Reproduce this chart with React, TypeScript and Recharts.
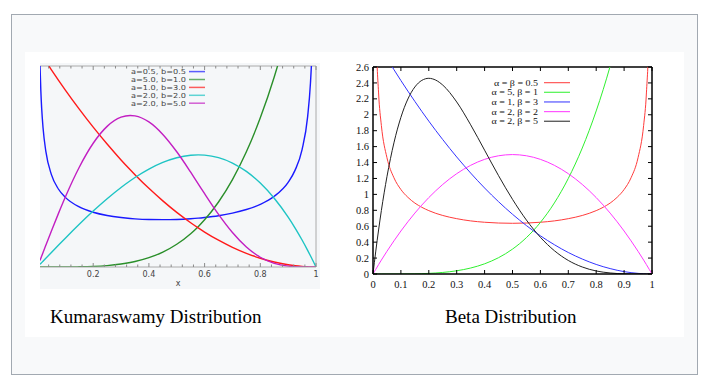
import React from 'react';
import { LineChart, Line, XAxis, YAxis, ReferenceLine, Legend } from 'recharts';

// ---------- Kumaraswamy (left) ----------
const kumX = [0.009, 0.012, 0.015, 0.02, 0.03, 0.05, 0.075, 0.1, 0.15, 0.2, 0.25, 0.3, 0.333, 0.35, 0.4, 0.45, 0.5, 0.55, 0.577, 0.6, 0.65, 0.7, 0.75, 0.8, 0.85, 0.9, 0.925, 0.95, 0.97, 0.98, 0.985, 0.99, 1];
const kumA05B05 = [2.77, 2.419, 2.179, 1.908, 1.587, 1.269, 1.071, 0.956, 0.825, 0.752, 0.707, 0.679, 0.666, 0.661, 0.652, 0.65, 0.653, 0.663, 0.671, 0.68, 0.704, 0.739, 0.789, 0.86, 0.971, 1.163, 1.33, 1.612, 2.065, 2.519, 2.903, 3.55, null];
const kumA5B1 = [0, 0, 0, 0, 0, 0.00003, 0.00016, 0.0005, 0.0025, 0.008, 0.0195, 0.0405, 0.0615, 0.075, 0.128, 0.205, 0.3125, 0.4575, 0.554, 0.648, 0.8925, 1.2005, 1.582, 2.048, 2.61, 3.2805, 3.66, 4.0725, 4.427, 4.612, 4.707, 4.803, 5];
const kumA1B3 = [2.946, 2.928, 2.911, 2.881, 2.823, 2.708, 2.567, 2.43, 2.168, 1.92, 1.688, 1.47, 1.335, 1.268, 1.08, 0.908, 0.75, 0.608, 0.537, 0.48, 0.368, 0.27, 0.188, 0.12, 0.068, 0.03, 0.017, 0.008, 0.003, 0.001, 0.001, 0.0003, 0];
const kumA2B2 = [0.036, 0.048, 0.06, 0.08, 0.12, 0.1995, 0.298, 0.396, 0.5865, 0.768, 0.9375, 1.092, 1.184, 1.2285, 1.344, 1.4355, 1.5, 1.5345, 1.5396, 1.536, 1.5015, 1.428, 1.3125, 1.152, 0.9435, 0.684, 0.534, 0.3705, 0.229, 0.155, 0.117, 0.079, 0];
const kumA2B5 = [0.09, 0.12, 0.15, 0.2, 0.299, 0.495, 0.733, 0.961, 1.37, 1.699, 1.931, 2.057, 2.081, 2.075, 1.992, 1.82, 1.582, 1.302, 1.143, 1.007, 0.723, 0.474, 0.275, 0.134, 0.05, 0.012, 0.004, 0.001, 0, 0, 0, 0, 0];
const kumNames = ['a=0.5, b=0.5', 'a=5.0, b=1.0', 'a=1.0, b=3.0', 'a=2.0, b=2.0', 'a=2.0, b=5.0'];
const kumColors = ['#1a1aff', '#2a8f2a', '#ff1a1a', '#1ec4c4', '#c21ec2'];
const kumXTicks = [0.04, 0.08, 0.12, 0.16, 0.2, 0.24, 0.28, 0.32, 0.36, 0.4, 0.44, 0.48, 0.52, 0.56, 0.6, 0.64, 0.68, 0.72, 0.76, 0.8, 0.84, 0.88, 0.92, 0.96, 1];
const kumYTicks = [0, 0.1, 0.2, 0.3, 0.4, 0.5, 0.6, 0.7, 0.8, 0.9, 1, 1.1, 1.2, 1.3, 1.4, 1.5, 1.6, 1.7, 1.8, 1.9, 2, 2.1, 2.2, 2.3, 2.4, 2.5, 2.6, 2.7];
const kumXDomain = [0.009, 1];
const kumYDomain = [0, 2.76];

// ---------- Beta (right) ----------
const betaX = [0, 0.005, 0.01, 0.02, 0.03, 0.05, 0.075, 0.1, 0.125, 0.15, 0.175, 0.2, 0.225, 0.25, 0.3, 0.35, 0.4, 0.45, 0.5, 0.55, 0.6, 0.65, 0.7, 0.75, 0.8, 0.825, 0.85, 0.875, 0.9, 0.925, 0.95, 0.97, 0.98, 0.99, 0.995, 1];
const betaA05B05 = [null, 4.513, 3.199, 2.274, 1.866, 1.461, 1.209, 1.061, 0.963, 0.891, 0.838, 0.796, 0.762, 0.735, 0.695, 0.667, 0.65, 0.64, 0.637, 0.64, 0.65, 0.667, 0.695, 0.735, 0.796, 0.838, 0.891, 0.963, 1.061, 1.209, 1.461, 1.866, 2.274, 3.199, 4.513, null];
const betaA5B1 = [0, 0, 0, 0, 0, 0.00003, 0.00016, 0.0005, 0.0012, 0.0025, 0.0047, 0.008, 0.0128, 0.0195, 0.0405, 0.075, 0.128, 0.205, 0.3125, 0.4575, 0.648, 0.8925, 1.2005, 1.582, 2.048, 2.316, 2.61, 2.931, 3.2805, 3.66, 4.0725, 4.427, 4.612, 4.803, 4.901, 5];
const betaA1B3 = [3, 2.97, 2.94, 2.881, 2.823, 2.708, 2.567, 2.43, 2.297, 2.168, 2.042, 1.92, 1.802, 1.688, 1.47, 1.268, 1.08, 0.908, 0.75, 0.608, 0.48, 0.368, 0.27, 0.188, 0.12, 0.092, 0.068, 0.047, 0.03, 0.017, 0.008, 0.003, 0.001, 0.0003, 0.0001, 0];
const betaA2B2 = [0, 0.03, 0.059, 0.118, 0.175, 0.285, 0.416, 0.54, 0.656, 0.765, 0.866, 0.96, 1.046, 1.125, 1.26, 1.365, 1.44, 1.485, 1.5, 1.485, 1.44, 1.365, 1.26, 1.125, 0.96, 0.866, 0.765, 0.656, 0.54, 0.416, 0.285, 0.175, 0.118, 0.059, 0.03, 0];
const betaA2B5 = [0, 0.147, 0.288, 0.553, 0.797, 1.222, 1.647, 1.968, 2.198, 2.349, 2.432, 2.458, 2.435, 2.373, 2.161, 1.874, 1.555, 1.235, 0.938, 0.677, 0.461, 0.293, 0.17, 0.088, 0.038, 0.023, 0.013, 0.006, 0.003, 0.001, 0.0002, 0, 0, 0, 0, 0];
const betaNames = ['α = β = 0.5', 'α = 5, β = 1', 'α = 1, β = 3', 'α = 2, β = 2', 'α = 2, β = 5'];
const betaColors = ['#ff3b3b', '#2ff02f', '#3434ff', '#ff38ff', '#222222'];
const betaXTicks = [0, 0.1, 0.2, 0.3, 0.4, 0.5, 0.6, 0.7, 0.8, 0.9, 1];
const betaYTicks = [0, 0.2, 0.4, 0.6, 0.8, 1, 1.2, 1.4, 1.6, 1.8, 2, 2.2, 2.4, 2.6];
const betaYDomain = [0, 2.6];

const captions = ['Kumaraswamy Distribution', 'Beta Distribution'];

const kumData = kumX.map((x, i) => ({
  x,
  s1: kumA05B05[i],
  s2: kumA5B1[i],
  s3: kumA1B3[i],
  s4: kumA2B2[i],
  s5: kumA2B5[i],
}));
const betaData = betaX.map((x, i) => ({
  x,
  s1: betaA05B05[i],
  s2: betaA5B1[i],
  s3: betaA1B3[i],
  s4: betaA2B2[i],
  s5: betaA2B5[i],
}));

// layout
const KUM_W = 280;
const KUM_H = 226;
const KUM_PW = 276;
const KUM_PH = 201;
const BETA_W = 320;
const BETA_H = 242;
const BETA_PW = 279;
const BETA_PH = 207;

const isMult = (v: number, step: number) => Math.abs(v / step - Math.round(v / step)) < 1e-6;
const fmt = (v: number) => String(Number(v.toFixed(2)));

const inOrder = (payload: any[], names: string[]) =>
  names.map((n) => payload.find((p: any) => p.value === n)).filter(Boolean);

const KumXTick = (props: any) => {
  const { x, y, payload } = props;
  const v = payload.value;
  const major = isMult(v, 0.2);
  const len = major ? 4 : 2.5;
  return (
    <g>
      <line x1={x} x2={x} y1={y} y2={y - len} stroke="#8a8a8a" strokeWidth={1} />
      <line x1={x} x2={x} y1={y - KUM_PH} y2={y - KUM_PH + len} stroke="#8a8a8a" strokeWidth={1} />
      {major && (
        <text x={x} y={y + 10} textAnchor="middle" fontSize={8} fontFamily="DejaVu Sans" fill="#444">
          {fmt(v)}
        </text>
      )}
    </g>
  );
};

const KumYTick = (props: any) => {
  const { x, y, payload } = props;
  const v = payload.value;
  const major = isMult(v, 0.5);
  return (
    <g>
      {major && <line x1={x} x2={x + 4} y1={y} y2={y} stroke="#8a8a8a" strokeWidth={1} />}
      <line x1={x + KUM_PW} x2={x + KUM_PW - (major ? 4 : 2.5)} y1={y} y2={y} stroke="#8a8a8a" strokeWidth={1} />
    </g>
  );
};

const BetaXTick = (props: any) => {
  const { x, y, payload } = props;
  const v = payload.value;
  return (
    <g>
      <line x1={x} x2={x} y1={y} y2={y - 4} stroke="#000" strokeWidth={1} />
      <line x1={x} x2={x} y1={y - BETA_PH} y2={y - BETA_PH + 4} stroke="#000" strokeWidth={1} />
      <text x={x} y={y + 13.5} textAnchor="middle" fontSize={10.5} fontFamily="Liberation Serif" fill="#111">
        {fmt(v)}
      </text>
    </g>
  );
};

const BetaYTick = (props: any) => {
  const { x, y, payload } = props;
  const v = payload.value;
  return (
    <g>
      <line x1={x} x2={x + 4} y1={y} y2={y} stroke="#000" strokeWidth={1} />
      <line x1={x + BETA_PW} x2={x + BETA_PW - 4} y1={y} y2={y} stroke="#000" strokeWidth={1} />
      <text x={x - 4} y={y + 3.6} textAnchor="end" fontSize={10.5} fontFamily="Liberation Serif" fill="#111">
        {fmt(v)}
      </text>
    </g>
  );
};

const KumLegend = (props: any) => {
  const items = inOrder(props.payload || [], kumNames);
  return (
    <svg width={90} height={44} style={{ display: 'block' }}>
      {items.map((p: any, i: number) => {
        const cy = 4.6 + i * 7.9;
        return (
          <g key={i}>
            <text
              x={66}
              y={cy + 2.5}
              textAnchor="end"
              fontSize={6.8}
              textLength={55}
              lengthAdjust="spacingAndGlyphs"
              fontFamily="DejaVu Sans"
              fill="#444"
            >
              {p.value}
            </text>
            <line x1={69} x2={85} y1={cy} y2={cy} stroke={p.color} strokeWidth={1.5} strokeOpacity={0.7} />
          </g>
        );
      })}
    </svg>
  );
};

const BetaLegend = (props: any) => {
  const items = inOrder(props.payload || [], betaNames);
  return (
    <svg width={95} height={52} style={{ display: 'block' }}>
      {items.map((p: any, i: number) => {
        const cy = 6.65 + i * 9.65;
        return (
          <g key={i}>
            <g transform={`translate(58, ${cy + 3}) scale(1.15, 1)`}>
              <text x={0} y={0} textAnchor="end" fontSize={8.7} fontFamily="Liberation Serif" fill="#111">
                {p.value}
              </text>
            </g>
            <line x1={64} x2={90} y1={cy} y2={cy} stroke={p.color} strokeWidth={1.2} strokeOpacity={0.85} />
          </g>
        );
      })}
    </svg>
  );
};

const seriesKeys = ['s1', 's2', 's3', 's4', 's5'];

export default function App() {
  return (
    <div style={{ position: 'absolute', left: 0, top: 0, width: 707, height: 385, overflow: 'hidden', background: '#fff' }}>
      <div
        style={{
          position: 'absolute',
          left: 11,
          top: 14,
          width: 687,
          height: 361,
          boxSizing: 'border-box',
          border: '1px solid #a2a9b1',
          background: '#f8f9fa',
        }}
      />
      <div style={{ position: 'absolute', left: 25, top: 52, width: 659, height: 285, background: '#ffffff' }} />

      <div style={{ position: 'absolute', left: 40, top: 63, width: KUM_W, height: KUM_H, background: '#f5f7f9' }}>
        <LineChart width={KUM_W} height={KUM_H} data={kumData} margin={{ top: 3, right: 4, bottom: 0, left: 0 }}>
          <XAxis
            dataKey="x"
            type="number"
            domain={kumXDomain}
            allowDataOverflow
            ticks={kumXTicks}
            interval={0}
            height={22}
            tickSize={0}
            tickMargin={0}
            tickLine={false}
            tick={<KumXTick />}
            axisLine={{ stroke: '#aaaaaa' }}
            label={{ value: 'x', position: 'insideBottom', offset: 3, fontSize: 8, fill: '#444', fontFamily: 'DejaVu Sans' }}
          />
          <YAxis
            type="number"
            domain={kumYDomain}
            allowDataOverflow
            ticks={kumYTicks}
            interval={0}
            width={0}
            tickSize={0}
            tickMargin={0}
            tickLine={false}
            tick={<KumYTick />}
            axisLine={{ stroke: '#aaaaaa' }}
          />
          <ReferenceLine y={2.76} stroke="#aaaaaa" />
          <ReferenceLine x={1} stroke="#aaaaaa" />
          {seriesKeys.map((k, i) => (
            <Line
              key={k}
              dataKey={k}
              name={kumNames[i]}
              type="monotone"
              stroke={kumColors[i]}
              strokeWidth={1.4}
              dot={false}
              activeDot={false}
              isAnimationActive={false}
            />
          ))}
          <Legend
            layout="horizontal"
            verticalAlign="middle"
            align="center"
            content={KumLegend}
            wrapperStyle={{ left: 80, top: 4, width: 90, height: 44 }}
          />
        </LineChart>
      </div>

      <div style={{ position: 'absolute', left: 340, top: 58, width: BETA_W, height: BETA_H }}>
        <LineChart width={BETA_W} height={BETA_H} data={betaData} margin={{ top: 9, right: 8, bottom: 0, left: 0 }}>
          <XAxis
            dataKey="x"
            type="number"
            domain={[0, 1]}
            allowDataOverflow
            ticks={betaXTicks}
            interval={0}
            height={26}
            tickSize={0}
            tickMargin={0}
            tickLine={false}
            tick={<BetaXTick />}
            axisLine={{ stroke: '#000', strokeWidth: 1.5 }}
          />
          <YAxis
            type="number"
            domain={betaYDomain}
            allowDataOverflow
            ticks={betaYTicks}
            interval={0}
            width={33}
            tickSize={0}
            tickMargin={0}
            tickLine={false}
            tick={<BetaYTick />}
            axisLine={{ stroke: '#000', strokeWidth: 1.5 }}
          />
          <ReferenceLine y={2.6} stroke="#000" strokeWidth={1.5} />
          <ReferenceLine x={1} stroke="#000" strokeWidth={1.5} />
          {seriesKeys.map((k, i) => (
            <Line
              key={k}
              dataKey={k}
              name={betaNames[i]}
              type="monotone"
              stroke={betaColors[i]}
              strokeWidth={1}
              dot={false}
              activeDot={false}
              isAnimationActive={false}
            />
          ))}
          <Legend
            layout="horizontal"
            verticalAlign="middle"
            align="center"
            content={BetaLegend}
            wrapperStyle={{ left: 140, top: 18, width: 95, height: 52 }}
          />
        </LineChart>
      </div>

      <svg width={707} height={385} style={{ position: 'absolute', left: 0, top: 0, pointerEvents: 'none' }}>
        <text x={50} y={322.5} fontSize={19} fontFamily="Liberation Serif" fill="#000">
          {captions[0]}
        </text>
        <text x={445} y={322.5} fontSize={19} fontFamily="Liberation Serif" fill="#000">
          {captions[1]}
        </text>
      </svg>
    </div>
  );
}
